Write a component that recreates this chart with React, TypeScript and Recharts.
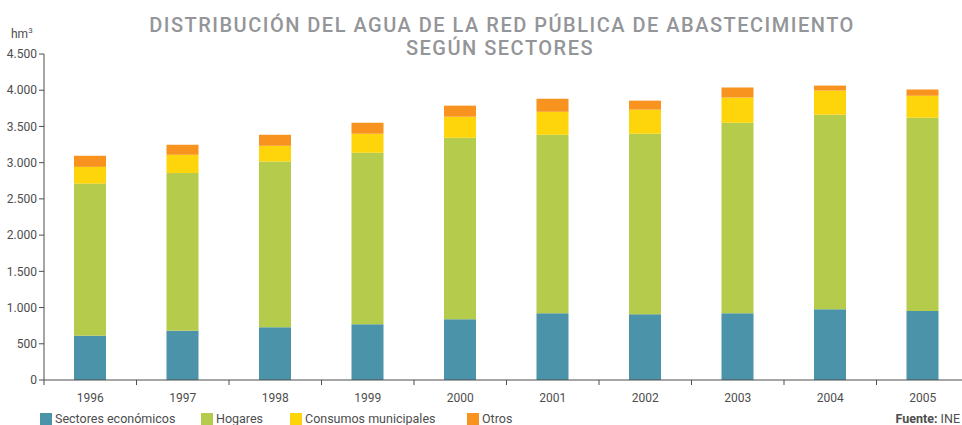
import React from 'react';
import { BarChart, Bar, XAxis, YAxis } from 'recharts';

const years = ['1996', '1997', '1998', '1999', '2000', '2001', '2002', '2003', '2004', '2005'];
const sectoresEconomicos = [612, 681, 727, 768, 838, 921, 907, 921, 976, 953];
const hogares = [2099, 2178, 2289, 2368, 2506, 2464, 2492, 2631, 2686, 2668];
const consumosMunicipales = [231, 249, 217, 263, 291, 319, 333, 346, 333, 304];
const otros = [153, 139, 152, 153, 152, 180, 124, 138, 69, 84];
const yTicks = [0, 500, 1000, 1500, 2000, 2500, 3000, 3500, 4000, 4500];

const COLORS = {
  eco: '#4a93a8',
  hog: '#b5cb4b',
  mun: '#fed40a',
  otr: '#f7931e',
};

const data = years.map((y, i) => ({
  year: y,
  eco: sectoresEconomicos[i],
  hog: hogares[i],
  mun: consumosMunicipales[i],
  otr: otros[i],
}));

const FONT = 'Roboto, "DejaVu Sans", sans-serif';
const AXIS = '#4d4d4d';

const fmt = (v: number) => String(v).replace(/\B(?=(\d{3})+(?!\d))/g, '.');

// category ticks sit between bars, so draw them by hand
const XTick = (props: any) => {
  const { x, y, payload } = props;
  const half = 46.25;
  return (
    <g>
      <line x1={x - half} y1={y - 8} x2={x - half} y2={y - 3} stroke={AXIS} strokeWidth={1} />
      <text x={x} y={y + 14} textAnchor="middle" fontSize={12} fill={AXIS} fontFamily={FONT}>
        {payload.value}
      </text>
    </g>
  );
};

const legendItems = [
  { label: 'Sectores económicos', color: COLORS.eco, sq: 40, tx: 55 },
  { label: 'Hogares', color: COLORS.hog, sq: 201, tx: 216 },
  { label: 'Consumos municipales', color: COLORS.mun, sq: 290, tx: 305 },
  { label: 'Otros', color: COLORS.otr, sq: 467, tx: 482 },
];

export default function App() {
  return (
    <div style={{ position: 'relative', width: 962, height: 425, overflow: 'hidden', background: '#fff', fontFamily: FONT }}>
      <style>{'html,body{margin:0;padding:0;overflow:hidden;}'}</style>
      <div style={{ position: 'absolute', top: 0, left: 0 }}>
        <BarChart width={970} height={425} data={data} margin={{ top: 54, right: 1, left: 0, bottom: 15 }} barSize={32}>
          <XAxis
            dataKey="year"
            height={30}
            stroke={AXIS}
            tickLine={false}
            tick={<XTick />}
            interval={0}
          />
          <YAxis
            width={44}
            domain={[0, 4500]}
            ticks={yTicks}
            tickFormatter={fmt}
            stroke={AXIS}
            tickSize={5}
            tick={{ fill: AXIS, fontSize: 12, fontFamily: FONT }}
            interval={0}
          />
          <Bar dataKey="eco" stackId="a" fill={COLORS.eco} isAnimationActive={false} />
          <Bar dataKey="hog" stackId="a" fill={COLORS.hog} isAnimationActive={false} />
          <Bar dataKey="mun" stackId="a" fill={COLORS.mun} isAnimationActive={false} />
          <Bar dataKey="otr" stackId="a" fill={COLORS.otr} isAnimationActive={false} />
        </BarChart>
      </div>
      <svg width={962} height={425} style={{ position: 'absolute', top: 0, left: 0, pointerEvents: 'none' }} fontFamily={FONT}>
        <g fill="#939598" fontSize={20} fontWeight={500} textAnchor="middle" letterSpacing={1.5}>
          <text x={502} y={32}>DISTRIBUCIÓN DEL AGUA DE LA RED PÚBLICA DE ABASTECIMIENTO</text>
          <text x={500} y={55}>SEGÚN SECTORES</text>
        </g>
        <text x={11} y={38} fontSize={12} fill={AXIS}>
          hm<tspan fontSize={8} dy={-5}>3</tspan>
        </text>
        {legendItems.map((it) => (
          <g key={it.label}>
            <rect x={it.sq} y={413} width={12} height={12} fill={it.color} />
            <text x={it.tx} y={423} fontSize={12.5} fill={AXIS}>{it.label}</text>
          </g>
        ))}
        <text x={960} y={423} fontSize={12.5} fill={AXIS} textAnchor="end">
          <tspan fontWeight={700}>Fuente:</tspan> INE
        </text>
      </svg>
    </div>
  );
}
